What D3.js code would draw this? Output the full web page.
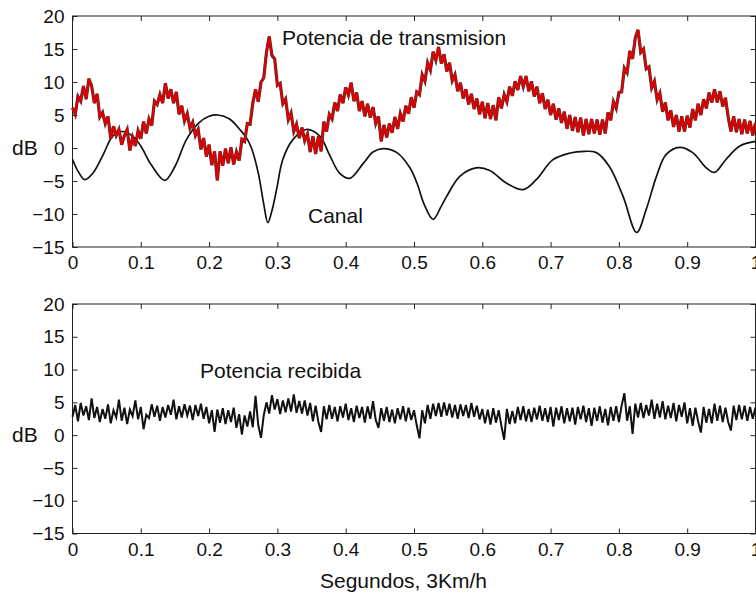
<!DOCTYPE html>
<html>
<head>
<meta charset="utf-8">
<script src="https://cdn.jsdelivr.net/npm/d3@7/dist/d3.min.js"></script>
<style>
  html, body { margin: 0; padding: 0; background: #fff; }
  svg { display: block; }
  text { font-family: "Liberation Sans", Arial, Helvetica, sans-serif; fill: #111; }
</style>
</head>
<body>
<svg id="chart" width="756" height="598"></svg>
<script>
// Tick values shared by both panels
const xTicks = [0, 0.1, 0.2, 0.3, 0.4, 0.5, 0.6, 0.7, 0.8, 0.9, 1];
const yTicks = [-15, -10, -5, 0, 5, 10, 15, 20];

// Channel gain (dB) at selected instants (s)
const channelT = [0.000, 0.008, 0.018, 0.030, 0.045, 0.059, 0.074, 0.088, 0.100, 0.115,
  0.135, 0.150, 0.167, 0.185, 0.200, 0.213, 0.230, 0.245, 0.255, 0.262,
  0.272, 0.280, 0.286, 0.292, 0.299, 0.308, 0.323, 0.342, 0.362, 0.377,
  0.391, 0.406, 0.426, 0.440, 0.455, 0.475, 0.494, 0.505, 0.514, 0.528,
  0.540, 0.548, 0.567, 0.591, 0.611, 0.635, 0.660, 0.679, 0.703, 0.727,
  0.750, 0.767, 0.786, 0.806, 0.826, 0.840, 0.855, 0.869, 0.889, 0.908,
  0.928, 0.940, 0.957, 0.977, 1.000];
const channelDb = [-1.7, -3.5, -4.8, -3.8, -1.0, 1.8, 2.5, 1.8, 0.3, -2.5,
  -4.9, -2.8, 1.3, 3.8, 4.8, 5.0, 4.4, 2.8, 1.5, 0.0,
  -3.8, -8.5, -11.3, -9.5, -6.2, -1.7, 1.3, 2.8, 1.8, -1.2,
  -3.8, -4.6, -2.3, -0.6, -0.1, -0.7, -3.0, -5.5, -8.3, -10.8,
  -8.8, -7.3, -4.3, -3.0, -3.4, -5.3, -6.3, -4.8, -1.8, -0.8,
  -0.5, -0.7, -2.8, -7.3, -12.8, -9.3, -4.3, -1.0, 0.1, -0.7,
  -3.0, -3.7, -1.7, 0.3, 1.0];

// Power-control samples, one every 4 ms over 1 s
const sampleStep = 0.004;
const txPower = [
  6.1, 5.1, 7.8, 7.1, 9.4, 7.4, 10.5, 9.4, 6.8, 8.2,
  4.7, 5.4, 3.7, 4.8, 1.4, 3.3, 1.9, 2.8, 0.5, 1.9,
  2.8, -0.4, 1.6, 0.3, 2.6, 1.4, 4.0, 2.2, 4.4, 3.4,
  7.1, 6.6, 8.1, 6.8, 9.8, 7.5, 8.9, 6.8, 8.5, 5.1,
  6.4, 4.1, 5.2, 3.0, 3.9, 1.9, 2.8, -0.2, 1.5, -1.3,
  0.5, -2.6, -0.5, -4.9, -0.5, -2.7, -0.1, -2.3, 0.1, -2.5,
  -0.6, -1.9, 1.3, 1.0, 3.7, 3.6, 6.8, 8.9, 7.0, 10.0,
  10.6, 14.5, 16.9, 14.0, 13.5, 9.5, 9.8, 6.7, 7.4, 4.3,
  5.3, 2.5, 3.6, 1.5, 3.1, 1.1, 2.1, -0.6, 1.8, -0.9,
  1.8, -0.5, 4.0, 2.5, 5.1, 4.4, 6.9, 5.6, 8.1, 6.8,
  9.2, 8.0, 9.9, 7.1, 8.4, 5.6, 7.1, 4.8, 6.7, 4.6,
  6.2, 3.7, 4.8, 1.0, 3.5, 1.6, 3.7, 2.3, 4.7, 2.9,
  5.2, 4.0, 6.4, 5.2, 7.7, 6.1, 8.5, 8.1, 11.1, 10.1,
  12.9, 11.8, 14.6, 13.3, 15.3, 12.8, 14.2, 11.6, 12.9, 10.2,
  11.1, 8.6, 9.9, 7.5, 8.9, 6.6, 8.2, 5.9, 7.5, 5.1,
  7.0, 4.5, 6.8, 4.4, 6.5, 4.2, 7.7, 6.0, 8.1, 7.0,
  9.3, 7.9, 10.1, 8.8, 10.9, 9.3, 10.9, 8.6, 10.1, 7.8,
  9.3, 6.8, 8.3, 5.9, 7.3, 5.0, 6.7, 4.3, 6.0, 3.8,
  5.5, 2.9, 5.0, 2.6, 4.7, 2.4, 4.6, 1.9, 4.4, 2.1,
  4.4, 2.2, 4.3, 2.0, 4.3, 2.2, 5.4, 4.2, 7.0, 6.0,
  8.4, 8.5, 12.1, 11.4, 14.7, 13.5, 16.7, 17.9, 14.5, 15.0,
  12.0, 12.3, 9.1, 10.1, 7.3, 8.3, 5.5, 6.9, 4.2, 5.7,
  3.2, 5.0, 2.5, 4.8, 2.5, 4.9, 3.1, 5.9, 4.2, 6.7,
  5.0, 7.4, 6.0, 8.4, 6.9, 8.9, 6.9, 8.6, 6.3, 7.6,
  4.7, 2.5, 4.8, 2.4, 4.4, 2.1, 4.3, 2.2, 4.1, 1.9,
  3.8];
const rxPower = [
  2.8, 4.6, 2.1, 4.9, 3.0, 4.4, 2.3, 5.6, 2.6, 4.3,
  2.0, 4.0, 2.5, 4.7, 1.8, 3.8, 2.7, 5.4, 2.2, 4.2,
  1.7, 3.9, 2.9, 5.3, 2.4, 4.3, 0.9, 3.1, 2.6, 4.7,
  2.8, 4.5, 2.2, 4.3, 2.7, 4.6, 3.1, 5.4, 2.4, 4.4,
  2.7, 4.7, 3.0, 4.5, 2.3, 4.6, 2.9, 4.8, 2.5, 4.3,
  1.8, 3.8, 0.5, 3.9, 1.9, 4.1, 1.7, 3.8, 2.0, 4.2,
  1.1, 3.2, 0.1, 3.0, 1.3, 3.6, 1.2, 6.0, 1.5, -0.4,
  3.0, 5.0, 3.3, 6.1, 3.9, 5.5, 3.2, 5.3, 3.5, 5.6,
  3.6, 6.2, 3.4, 5.2, 3.3, 5.3, 3.0, 4.9, 2.1, 4.5,
  2.0, 0.5, 4.4, 2.4, 4.6, 2.5, 4.3, 2.1, 4.4, 2.7,
  4.8, 2.3, 4.1, 2.0, 4.5, 2.6, 4.3, 1.9, 4.4, 2.5,
  5.2, 2.3, 1.1, 4.1, 2.2, 4.3, 2.0, 3.9, 1.8, 4.1,
  2.4, 4.4, 2.1, 4.2, 2.3, 3.8, 1.5, -0.5, 3.8, 1.8,
  4.6, 2.5, 4.8, 2.9, 4.9, 2.8, 5.0, 3.0, 4.8, 2.7,
  4.6, 2.5, 4.7, 2.9, 4.6, 2.6, 4.9, 2.8, 4.5, 2.4,
  4.0, 1.8, 3.9, 1.6, 4.1, 1.9, 3.8, 1.4, -0.7, 4.0,
  1.7, 3.7, 1.8, 4.3, 2.3, 4.4, 2.1, 4.0, 2.0, 4.2,
  2.4, 4.5, 2.2, 4.1, 2.0, 4.3, 1.3, 4.2, 2.3, 4.4,
  1.8, 4.1, 2.1, 4.2, 1.6, 4.3, 2.4, 4.5, 2.0, 4.1,
  1.4, 4.2, 2.2, 4.4, 1.9, 4.0, 1.5, 4.3, 2.2, 4.4,
  2.0, 4.5, 6.4, 2.2, 4.4, 0.2, 4.8, 2.7, 4.9, 2.6,
  4.6, 3.0, 5.4, 2.5, 4.8, 2.7, 5.2, 2.4, 4.5, 2.6,
  4.9, 2.1, 4.6, 2.8, 5.0, 1.8, 4.1, 1.4, 4.2, 2.1,
  0.4, 4.3, 1.9, 4.0, 1.8, 4.8, 2.2, 4.5, 2.0, 4.2,
  2.0, 0.7, 4.5, 2.3, 4.6, 2.4, 4.5, 2.2, 4.3, 2.5,
  4.2];

const svg = d3.select("#chart");
const x = d3.scaleLinear().domain([0, 1]).range([72.5, 755.5]);

const panels = [
  { top: 16, bottom: 247 },
  { top: 304, bottom: 533.5 }
];

function drawPanel(p) {
  const y = d3.scaleLinear().domain([-15, 20]).range([p.bottom, p.top]);
  const g = svg.append("g");
  const fmtX = d3.format("~g");
  const fmtY = d3.format("d");

  const ax = (axis, tf) => g.append("g").attr("transform", tf).call(axis)
    .call(s => s.select(".domain").remove())
    .call(s => s.selectAll(".tick line").attr("stroke", "#222"))
    .call(s => s.selectAll("text").attr("font-size", 19).attr("fill", "#111")
      .attr("font-family", "'Liberation Sans', Arial, sans-serif"));

  ax(d3.axisBottom(x).tickValues(xTicks).tickFormat(fmtX).tickSizeInner(-5).tickSizeOuter(0).tickPadding(9),
     `translate(0,${p.bottom})`);
  ax(d3.axisTop(x).tickValues(xTicks).tickFormat("").tickSizeInner(-5).tickSizeOuter(0),
     `translate(0,${p.top})`);
  ax(d3.axisLeft(y).tickValues(yTicks).tickFormat(fmtY).tickSizeInner(-5).tickSizeOuter(0).tickPadding(8),
     `translate(${x(0)},0)`);
  ax(d3.axisRight(y).tickValues(yTicks).tickFormat("").tickSizeInner(-5).tickSizeOuter(0),
     `translate(${x(1)},0)`);

  g.append("rect")
    .attr("x", x(0)).attr("y", p.top)
    .attr("width", x(1) - x(0)).attr("height", p.bottom - p.top)
    .attr("fill", "none").attr("stroke", "#222").attr("stroke-width", 1);

  g.append("text").attr("x", 12).attr("y", y(0) + 7).attr("font-size", 21).text("dB");
  return { g, y };
}

const upperPanel = drawPanel(panels[0]);
const lowerPanel = drawPanel(panels[1]);

// Upper panel: channel and transmitted power
const channelPts = channelT.map((t, i) => [t, channelDb[i]]);
upperPanel.g.append("path")
  .datum(channelPts)
  .attr("fill", "none").attr("stroke", "#111").attr("stroke-width", 1.7)
  .attr("d", d3.line().x(d => x(d[0])).y(d => upperPanel.y(d[1])).curve(d3.curveCatmullRom));

const txPts = txPower.map((v, i) => [i * sampleStep, v]);
const txLine = d3.line().x(d => x(d[0])).y(d => upperPanel.y(d[1]));
upperPanel.g.append("path").datum(txPts)
  .attr("fill", "none").attr("stroke", "#3a3a3a").attr("stroke-width", 3.2)
  .attr("stroke-linejoin", "miter").attr("d", txLine);
upperPanel.g.append("path").datum(txPts)
  .attr("fill", "none").attr("stroke", "#e00000").attr("stroke-width", 2.2)
  .attr("stroke-linejoin", "miter").attr("d", txLine);

upperPanel.g.append("text").attr("x", 282).attr("y", 45).attr("font-size", 21).text("Potencia de transmision");
upperPanel.g.append("text").attr("x", 308).attr("y", 223).attr("font-size", 21).text("Canal");

// Lower panel: received power
const rxPts = rxPower.map((v, i) => [i * sampleStep, v]);
lowerPanel.g.append("path").datum(rxPts)
  .attr("fill", "none").attr("stroke", "#111").attr("stroke-width", 2)
  .attr("d", d3.line().x(d => x(d[0])).y(d => lowerPanel.y(d[1])));

lowerPanel.g.append("text").attr("x", 200).attr("y", 378).attr("font-size", 21).text("Potencia recibida");

svg.append("text").attr("x", 320).attr("y", 588).attr("font-size", 21).text("Segundos, 3Km/h");
</script>
</body>
</html>
